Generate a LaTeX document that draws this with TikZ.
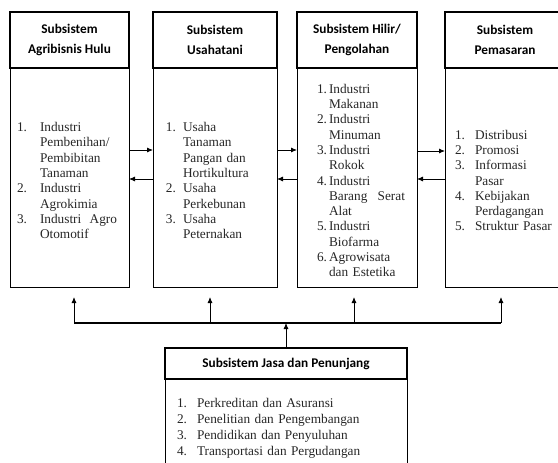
\documentclass[tikz,border=0pt]{standalone}
\usepackage{fontspec}
\setmainfont{Liberation Serif}
\newfontfamily\calibri{Carlito}
\usepackage{enumitem}
\usetikzlibrary{positioning,arrows.meta}

\setlist[enumerate]{label=\arabic*., nosep, align=left, labelwidth=10pt, labelsep=*, rightmargin=12pt}

\tikzset{
  head/.style={draw, line width=1.6pt, outer sep=0pt, inner sep=0pt, minimum height=56pt,
    align=center, font=\calibri\bfseries\fontsize{13.3}{20}\selectfont},
  body/.style={draw, line width=1pt, outer sep=0pt, inner sep=0pt, minimum height=219pt,
    align=left, font=\fontsize{13.3}{15.3}\selectfont, text=black!85},
  flow/.style={-{Latex[length=6pt,width=5pt]}, line width=0.8pt},
}

\begin{document}
\begin{tikzpicture}[x=1pt,y=-1pt]
	\useasboundingbox (0,0) rectangle (558,463);
	% subsistem hulu sampai pemasaran
	\node[head, minimum width=119pt] (h1) at (69.5,40) {Subsistem\\Agribisnis Hulu};
	\node[body, minimum width=119pt, text width=119pt, below=0pt of h1] (b1) {%
		\begin{enumerate}[leftmargin=30pt, labelindent=7pt]
		\item Industri\\Pembenihan/\\Pembibitan\\Tanaman
		\item Industri\\Agrokimia
		\item Industri\hfill Agro\\Otomotif
		\end{enumerate}};
	\node[head, minimum width=124pt] (h2) at (215,40) {Subsistem\\Usahatani};
	\node[body, minimum width=124pt, text width=124pt, below=0pt of h2] (b2) {%
		\begin{enumerate}[leftmargin=30pt, labelindent=13pt]
		\item Usaha\\Tanaman\\Pangan dan\\Hortikultura
		\item Usaha\\Perkebunan
		\item Usaha\\Peternakan
		\end{enumerate}};
	\node[head, minimum width=120pt] (h3) at (357,40) {Subsistem Hilir/\\Pengolahan};
	\node[body, minimum width=120pt, text width=120pt, below=0pt of h3] (b3) {%
		\begin{enumerate}[leftmargin=32pt, labelindent=20pt]
		\item Industri\\Makanan
		\item Industri\\Minuman
		\item Industri\\Rokok
		\item Industri\\Barang\hfill Serat\\Alat
		\item Industri\\Biofarma
		\item Agrowisata\\dan Estetika
		\end{enumerate}};
	\node[head, minimum width=120pt] (h4) at (505,40) {Subsistem\\Pemasaran};
	\node[body, minimum width=120pt, text width=120pt, below=0pt of h4] (b4) {%
		\begin{enumerate}[leftmargin=30pt, labelindent=10pt]
		\item Distribusi
		\item Promosi
		\item Informasi\\Pasar
		\item Kebijakan\\Perdagangan
		\item Struktur Pasar
		\end{enumerate}};
	% subsistem jasa
	\node[head, minimum width=242pt, minimum height=31pt] (h5) at (286,363.5) {Subsistem Jasa dan Penunjang};
	\node[body, minimum width=242pt, minimum height=92pt, text width=242pt,
		font=\fontsize{13.3}{16}\selectfont, below=0pt of h5] (b5) {%
		\begin{enumerate}[leftmargin=32pt, labelindent=12pt]
		\item Perkreditan dan Asuransi
		\item Penelitian dan Pengembangan
		\item Pendidikan dan Penyuluhan
		\item Transportasi dan Pergudangan
		\end{enumerate}};
	% panah antar subsistem
	\draw[flow] ([yshift=27.5pt]b1.east) -- ([yshift=27.5pt]b2.west);
	\draw[flow] ([yshift=-1.5pt]b2.west) -- ([yshift=-1.5pt]b1.east);
	\draw[flow] ([yshift=27.5pt]b2.east) -- ([yshift=27.5pt]b3.west);
	\draw[flow] ([yshift=-1.5pt]b3.west) -- ([yshift=-1.5pt]b2.east);
	\draw[flow] ([yshift=26.5pt]b3.east) -- ([yshift=26.5pt]b4.west);
	\draw[flow] ([yshift=-1.5pt]b4.west) -- ([yshift=-1.5pt]b3.east);
	% jalur penunjang
	\coordinate (bus) at ([yshift=-36pt]b1.south);
	\coordinate (t1) at ([xshift=4.5pt,yshift=-10pt]b1.south);
	\coordinate (t2) at ([xshift=-5pt,yshift=-10pt]b2.south);
	\coordinate (t3) at ([xshift=-3pt,yshift=-10pt]b3.south);
	\coordinate (t4) at ([xshift=-4pt,yshift=-10pt]b4.south);
	\draw[line width=1.4pt] (t1 |- bus) -- (t4 |- bus);
	\foreach \t in {t1,t2,t3,t4}
		\draw[flow] (\t |- bus) -- (\t);
	\draw[flow] (h5.north) -- (h5.north |- bus);
\end{tikzpicture}
\end{document}
